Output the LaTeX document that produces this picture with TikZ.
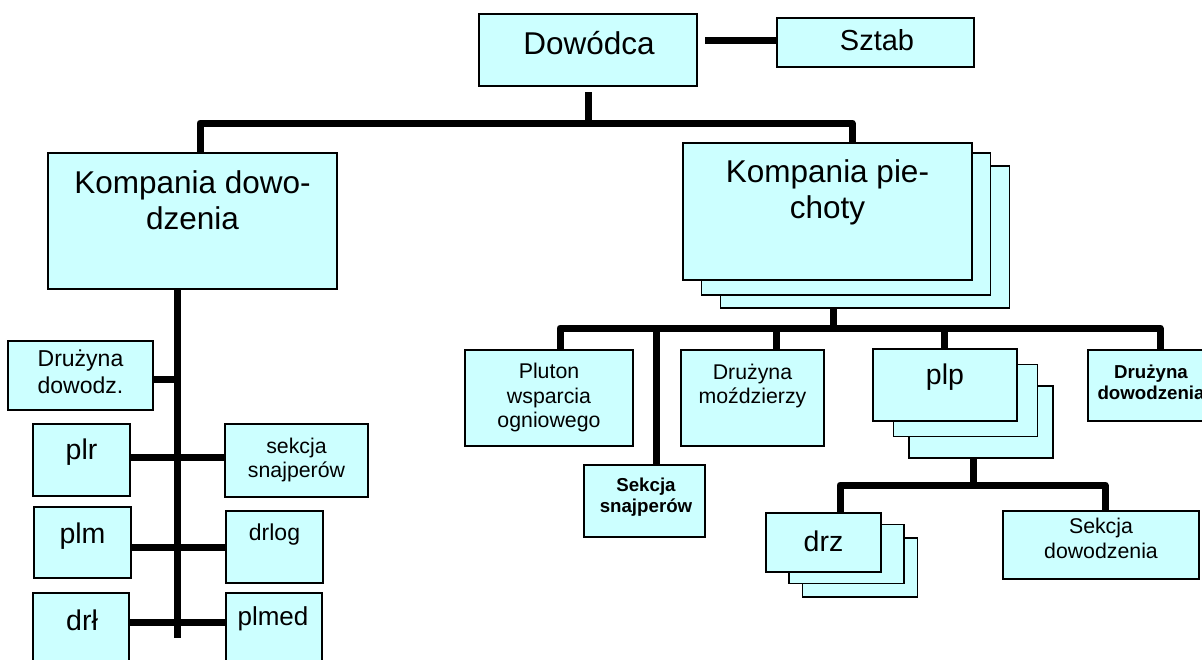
\documentclass[tikz,border=0pt]{standalone}
\usepackage{fontspec}
\setmainfont{Liberation Sans}
\definecolor{boxfill}{HTML}{CCFFFF}
\newcommand\fs[1]{\fontsize{#1}{#1*1.17}\selectfont}
\begin{document}
\begin{tikzpicture}[x=1pt,y=-1pt,
  box/.style={draw=black, line width=1.4pt, fill=boxfill, inner sep=0pt, outer sep=0pt},
  conn/.style={draw=black, line width=7pt, line join=round},
  lbl/.style={align=center, inner sep=0pt, text=black},
  f31/.style={lbl, font=\fontsize{31.5}{36}\selectfont},
  f29/.style={lbl, font=\fontsize{29}{34}\selectfont},
  f28/.style={lbl, font=\fontsize{28.5}{33}\selectfont},
  f26/.style={lbl, font=\fontsize{26}{30}\selectfont},
  f23/.style={lbl, font=\fontsize{23}{27}\selectfont},
  f21/.style={lbl, font=\fontsize{21.3}{24.5}\selectfont},
  fb19/.style={lbl, font=\fontsize{18.7}{21}\selectfont\bfseries},
]
\clip (0,0) rectangle (1202,659);
\fill[white] (0,0) rectangle (1202,659);

% ---- top level
\node[box, minimum width=218, minimum height=72] (dow) at (588,50) {};
\node[box, minimum width=197, minimum height=49] (sztab) at (875.5,42.5) {};
\node[f31] (t-dow) at (589,43) {Dowódca};
\node[f29] (t-sztab) at (877,40) {Sztab};

% ---- companies
\node[box, minimum width=289, minimum height=136] (kd) at (192.5,221) {};
\node[f31] (t-kd) at (192.5,200) {Kompania dowo-\\dzenia};
\node[box, minimum width=289, minimum height=142] (kp3) at (865,237) {};
\node[box, minimum width=289, minimum height=142] (kp2) at (846,224) {};
\node[box, minimum width=289, minimum height=137] (kp1) at (827.5,211.5) {};
\node[f31] (t-kp) at (827.5,192.5) {Kompania pie-\\choty};

% ---- command company elements
\node[box, minimum width=145, minimum height=69] (dd) at (80.5,375.5) {};
\node[f23] (t-dd) at (80.5,371.5) {Drużyna\\dowodz.};
\node[box, minimum width=97, minimum height=72] (plr) at (81.5,460) {};
\node[f28] (t-plr) at (81.5,452) {plr};
\node[box, minimum width=143, minimum height=73] (sek) at (296.5,460.5) {};
\node[f21] (t-sek) at (296.5,460) {sekcja\\snajperów};
\node[box, minimum width=97, minimum height=71] (plm) at (82.5,542.5) {};
\node[f28] (t-plm) at (82.5,536) {plm};
\node[box, minimum width=97, minimum height=72] (drlog) at (274.5,547) {};
\node[f23] (t-drlog) at (274.5,535) {drlog};
\node[box, minimum width=96, minimum height=107] (drl) at (81,646.5) {};
\node[f28] (t-drl) at (82,620) {drł};
\node[box, minimum width=96, minimum height=107] (plmed) at (274,646.5) {};
\node[f26] (t-plmed) at (273,619) {plmed};

% ---- infantry company elements
\node[box, minimum width=168, minimum height=96] (pluton) at (549,398) {};
\node[f21] (t-pluton) at (549,397.5) {Pluton\\wsparcia\\ogniowego};
\node[box, minimum width=121, minimum height=72] (ss) at (644.5,501) {};
\node[fb19] (t-ss) at (646,497.5) {Sekcja\\snajperów};
\node[box, minimum width=143, minimum height=96] (dm) at (752.5,398) {};
\node[f21] (t-dm) at (752.5,386) {Drużyna\\moździerzy};
\node[box, minimum width=144, minimum height=72] (plp3) at (981,422) {};
\node[box, minimum width=144, minimum height=72] (plp2) at (965.5,400.5) {};
\node[box, minimum width=144, minimum height=72] (plp1) at (945,385) {};
\node[f28] (t-plp) at (945,377) {plp};
\node[box, minimum width=132, minimum height=71] (ddow) at (1154,385.5) {};
\node[fb19] (t-ddow) at (1151,382.5) {Drużyna\\dowodzenia};

% ---- platoon elements
\node[box, minimum width=115, minimum height=59] (drz3) at (860,567.5) {};
\node[box, minimum width=115, minimum height=59] (drz2) at (846.5,554) {};
\node[box, minimum width=115, minimum height=59] (drz1) at (823.5,542.5) {};
\node[f28] (t-drz) at (823.5,541) {drz};
\node[box, minimum width=196, minimum height=68] (sd) at (1101,545) {};
\node[f21] (t-sd) at (1101,538.5) {Sekcja\\dowodzenia};

% ---- junction points
\coordinate (b1l) at (200,123);
\coordinate (b1r) at (852,123);
\coordinate (trunk) at (177,638);
\coordinate (b2) at (833,328);
\coordinate (b2l) at (560,328);
\coordinate (b2r) at (1160,328);
\coordinate (b2ss) at (656,328);
\coordinate (b2dm) at (776,328);
\coordinate (b2plp) at (944,328);
\coordinate (b3) at (973,485);
\coordinate (b3l) at (840,485);
\coordinate (b3r) at (1105,485);
\coordinate (r1) at (177,379);
\coordinate (r2) at (177,457);
\coordinate (r3) at (177,547);
\coordinate (r4) at (177,622);

% ---- connectors
\draw[conn] ([xshift=8pt]dow.east |- 0,40) -- (sztab.west |- 0,40);
\draw[conn] ([yshift=-6pt]dow.south) -- (dow.south |- b1l);
\draw[conn] (b1l |- kd.north) -- (b1l) -- (b1r) -- (b1r |- kp1.north);

\draw[conn] (trunk |- kd.south) -- (trunk);
\draw[conn] (r1 -| dd.east) -- (r1);
\draw[conn] (r2 -| plr.east) -- (r2 -| sek.west);
\draw[conn] (r3 -| plm.east) -- (r3 -| drlog.west);
\draw[conn] (r4 -| drl.east) -- (r4 -| plmed.west);

\draw[conn] (b2 |- kp3.south) -- (b2);
\draw[conn] (b2l |- pluton.north) -- (b2l) -- (b2r) -- (b2r |- ddow.north);
\draw[conn] (b2ss) -- (b2ss |- ss.north);
\draw[conn] (b2dm) -- (b2dm |- dm.north);
\draw[conn] (b2plp) -- (b2plp |- plp1.north);

\draw[conn] (b3 |- plp3.south) -- (b3);
\draw[conn] (b3l |- drz1.north) -- (b3l) -- (b3r) -- (b3r |- sd.north);
\end{tikzpicture}
\end{document}
